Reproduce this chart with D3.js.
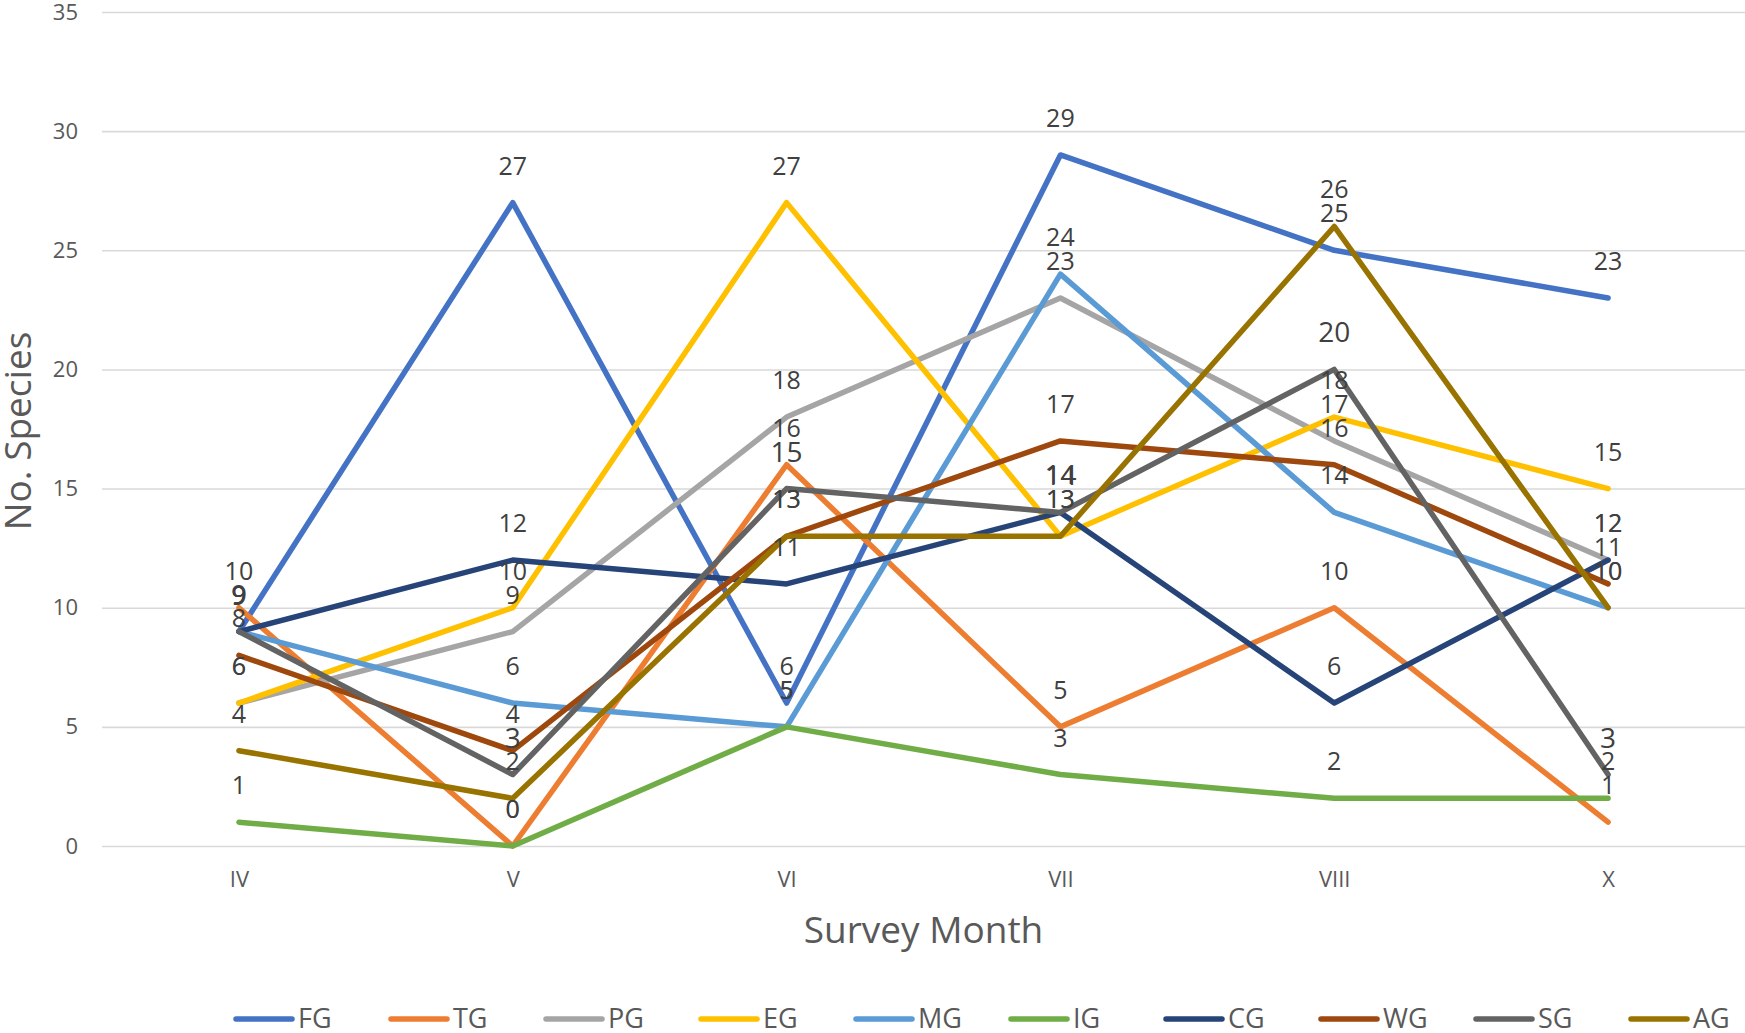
<!DOCTYPE html>
<html>
<head>
<meta charset="utf-8">
<script src="https://cdnjs.cloudflare.com/ajax/libs/d3/7.8.5/d3.min.js"></script>
<style>
  body { margin: 0; background: #fff; }
  svg { display: block; font-family: "Open Sans", sans-serif; }
</style>
</head>
<body>
<div id="chart"></div>
<script>
const W = 1745;
const H = 1033;

// data
const months = ["IV", "V", "VI", "VII", "VIII", "X"];
const seriesNames = ["FG", "TG", "PG", "EG", "MG", "IG", "CG", "WG", "SG", "AG"];
const FG = [9, 27, 6, 29, 25, 23];
const TG = [10, 0, 16, 5, 10, 1];
const PG = [6, 9, 18, 23, 17, 12];
const EG = [6, 10, 27, 13, 18, 15];
const MG = [9, 6, 5, 24, 14, 10];
const IG = [1, 0, 5, 3, 2, 2];
const CG = [9, 12, 11, 14, 6, 12];
const WG = [8, 4, 13, 17, 16, 11];
const SG = [9, 3, 15, 14, 20, 3];
const AG = [4, 2, 13, 13, 26, 10];
const yTicks = [0, 5, 10, 15, 20, 25, 30, 35];

const colors = ["#4472C4", "#ED7D31", "#A5A5A5", "#FFC000", "#5B9BD5",
                "#70AD47", "#264478", "#9E480E", "#636363", "#997300"];
const values = [FG, TG, PG, EG, MG, IG, CG, WG, SG, AG];

const series = seriesNames.map((name, i) => ({ name, color: colors[i], values: values[i] }));

const plot = { left: 102, right: 1745, top: 12, bottom: 846 };

const svg = d3.select("#chart")
    .append("svg")
    .attr("width", W)
    .attr("height", H);

const x = d3.scalePoint()
    .domain(months)
    .range([plot.left, plot.right])
    .padding(0.5);

const y = d3.scaleLinear()
    .domain([0, 35])
    .range([plot.bottom, plot.top]);

// gridlines + y tick labels
const yAxis = svg.append("g")
    .attr("transform", `translate(${plot.left},0)`)
    .call(d3.axisLeft(y).tickValues(yTicks).tickSize(-(plot.right - plot.left)).tickPadding(24));
yAxis.select(".domain").remove();
yAxis.selectAll(".tick line").attr("stroke", "#d9d9d9").attr("stroke-width", 1.6);
yAxis.selectAll(".tick text")
    .attr("fill", "#595959")
    .style("font-size", "22px")
    .style("font-family", "'Open Sans', sans-serif");

// x tick labels
const xAxis = svg.append("g")
    .attr("transform", `translate(0,${plot.bottom})`)
    .call(d3.axisBottom(x).tickSize(0).tickPadding(25));
xAxis.select(".domain").remove();
xAxis.selectAll(".tick text")
    .attr("fill", "#595959")
    .style("font-size", "22px")
    .style("font-family", "'Open Sans', sans-serif");

// axis titles
svg.append("text")
    .attr("x", (plot.left + plot.right) / 2)
    .attr("y", 943)
    .attr("text-anchor", "middle")
    .attr("fill", "#595959")
    .style("font-size", "37px")
    .text("Survey Month");

svg.append("text")
    .attr("transform", "translate(31,431) rotate(-90)")
    .attr("text-anchor", "middle")
    .attr("fill", "#595959")
    .style("font-size", "37px")
    .text("No. Species");

// lines
const line = d3.line()
    .x((d, i) => x(months[i]))
    .y(d => y(d));

svg.append("g")
    .selectAll("path")
    .data(series)
    .enter()
    .append("path")
    .attr("d", d => line(d.values))
    .attr("fill", "none")
    .attr("stroke", d => d.color)
    .attr("stroke-width", 5.5)
    .attr("stroke-linejoin", "round")
    .attr("stroke-linecap", "round");

// data labels (drawn above all lines)
const labels = svg.append("g");
series.forEach(s => {
    labels.selectAll(null)
        .data(s.values)
        .enter()
        .append("text")
        .attr("x", (d, i) => x(months[i]))
        .attr("y", d => y(d) - (s.name === "SG" ? 27 : 28))
        .attr("text-anchor", "middle")
        .attr("fill", "#404040")
        .style("font-size", s.name === "SG" ? "28px" : "25px")
        .text(d => d);
});

// legend
const legend = svg.append("g")
    .attr("transform", "translate(236,1019)");
const item = legend.selectAll("g")
    .data(series)
    .enter()
    .append("g")
    .attr("transform", (d, i) => `translate(${i * 155},0)`);
item.append("line")
    .attr("x1", 0)
    .attr("x2", 56)
    .attr("stroke", d => d.color)
    .attr("stroke-width", 5.5)
    .attr("stroke-linecap", "round");
item.append("text")
    .attr("x", 62)
    .attr("y", 9)
    .attr("fill", "#595959")
    .style("font-size", "27px")
    .text(d => d.name);
</script>
</body>
</html>
